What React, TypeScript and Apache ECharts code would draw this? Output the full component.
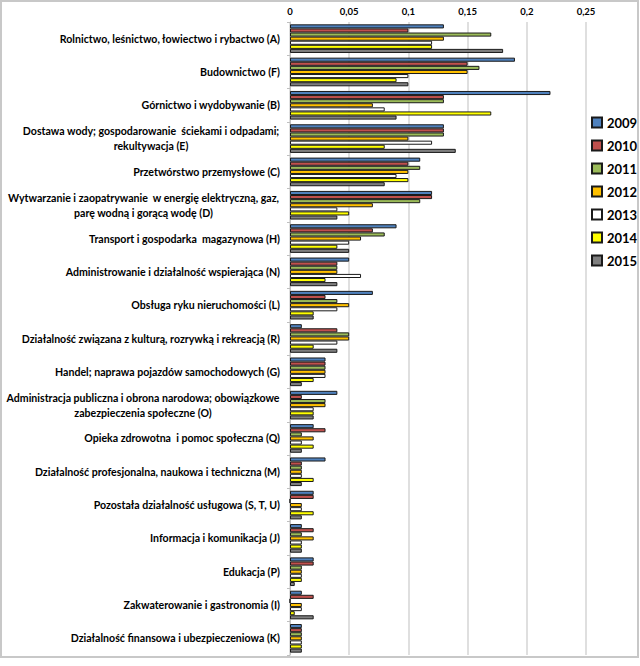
import React, { useEffect, useRef } from "react";
import * as echarts from "echarts";

const categories = [
  "Rolnictwo, leśnictwo, łowiectwo i rybactwo (A)",
  "Budownictwo (F)",
  "Górnictwo i wydobywanie (B)",
  "Dostawa wody; gospodarowanie  ściekami i odpadami;\nrekultywacja (E)",
  "Przetwórstwo przemysłowe (C)",
  "Wytwarzanie i zaopatrywanie  w energię elektryczną, gaz,\nparę wodną i gorącą wodę (D)",
  "Transport i gospodarka  magazynowa (H)",
  "Administrowanie i działalność wspierająca (N)",
  "Obsługa ryku nieruchomości (L)",
  "Działalność związana z kulturą, rozrywką i rekreacją (R)",
  "Handel; naprawa pojazdów samochodowych (G)",
  "Administracja publiczna i obrona narodowa; obowiązkowe\nzabezpieczenia społeczne (O)",
  "Opieka zdrowotna  i pomoc społeczna (Q)",
  "Działalność profesjonalna, naukowa i techniczna (M)",
  "Pozostała działalność usługowa (S, T, U)",
  "Informacja i komunikacja (J)",
  "Edukacja (P)",
  "Zakwaterowanie i gastronomia (I)",
  "Działalność finansowa i ubezpieczeniowa (K)",
];

const years = ["2009", "2010", "2011", "2012", "2013", "2014", "2015"];

const v2009 = [0.13, 0.19, 0.22, 0.13, 0.11, 0.12, 0.09, 0.05, 0.07, 0.01, 0.03, 0.04, 0.02, 0.03, 0.02, 0.01, 0.02, 0.01, 0.01];
const v2010 = [0.10, 0.15, 0.13, 0.13, 0.10, 0.12, 0.07, 0.04, 0.03, 0.04, 0.03, 0.01, 0.03, 0.01, 0.02, 0.02, 0.02, 0.02, 0.01];
const v2011 = [0.17, 0.16, 0.13, 0.13, 0.11, 0.11, 0.08, 0.04, 0.04, 0.05, 0.03, 0.03, 0.01, 0.01, 0, 0.01, 0.01, 0, 0.01];
const v2012 = [0.13, 0.15, 0.07, 0.10, 0.10, 0.07, 0.06, 0.04, 0.05, 0.05, 0.03, 0.03, 0.02, 0.01, 0.01, 0.02, 0.01, 0.01, 0.01];
const v2013 = [0.12, 0.10, 0.08, 0.12, 0.09, 0.04, 0.05, 0.06, 0.04, 0.04, 0.03, 0.02, 0.01, 0.01, 0.01, 0.01, 0.01, 0.01, 0.01];
const v2014 = [0.12, 0.09, 0.17, 0.08, 0.10, 0.05, 0.04, 0.03, 0.02, 0.02, 0.02, 0.02, 0.02, 0.02, 0.02, 0.01, 0.01, 0.004, 0.01];
const v2015 = [0.18, 0.10, 0.09, 0.14, 0.08, 0.04, 0.05, 0.04, 0.02, 0.04, 0.01, 0.02, 0.01, 0.01, 0.01, 0.01, 0.004, 0.02, 0.01];

const seriesValues = [v2009, v2010, v2011, v2012, v2013, v2014, v2015];
const colors = ["#4F81BD", "#C0504D", "#9BBB59", "#FFC000", "#FFFFFF", "#FFFF00", "#7F7F7F"];

const xTicks = { min: 0, max: 0.25, interval: 0.05 };

const LABEL_FONT = "Lato";
const LABEL_SIZE = 10.6;

export default function App() {
  const ref = useRef<HTMLDivElement>(null);

  useEffect(() => {
    document.body.style.margin = "0";
    if (!ref.current) return;
    const chart = echarts.init(ref.current, null, { renderer: "svg" });

    const canvas = document.createElement("canvas");
    const ctx = canvas.getContext("2d")!;
    ctx.font = `bold ${LABEL_SIZE}px ${LABEL_FONT}`;
    const rich: Record<string, any> = {
      s: { fontFamily: LABEL_FONT, fontWeight: "bold", fontSize: LABEL_SIZE, color: "#000", lineHeight: 15 },
    };
    const keyOf: Record<string, string> = {};
    categories.forEach((c, i) => {
      if (c.includes("\n")) {
        const w = Math.max(...c.split("\n").map((l) => ctx.measureText(l).width));
        const k = "m" + i;
        rich[k] = {
          fontFamily: LABEL_FONT,
          fontWeight: "bold",
          fontSize: LABEL_SIZE,
          color: "#000",
          width: Math.ceil(w) + 1,
          align: "center",
          lineHeight: 15,
        };
        keyOf[c] = k;
      }
    });

    chart.setOption({
      animation: false,
      backgroundColor: "#fff",
      textStyle: { fontFamily: LABEL_FONT },
      grid: { left: 290, right: 54, top: 22, bottom: 11, containLabel: false },
      legend: {
        data: years,
        orient: "vertical",
        left: 591,
        top: 115,
        padding: 0,
        itemWidth: 10,
        itemHeight: 10,
        itemGap: 8,
        icon: "rect",
        textStyle: { fontSize: 13, fontWeight: "bold", color: "#000", fontFamily: LABEL_FONT, lineHeight: 15 },
      },
      xAxis: {
        type: "value",
        position: "top",
        min: xTicks.min,
        max: xTicks.max,
        interval: xTicks.interval,
        axisLine: { show: false },
        axisTick: { show: false },
        splitLine: { show: true, lineStyle: { color: "#D4D4D4", width: 1.5 } },
        axisLabel: {
          margin: 6,
          fontSize: 9.5,
          fontWeight: "bold",
          color: "#000",
          fontFamily: LABEL_FONT,
          formatter: (v: number) => String(Number(v.toFixed(2))).replace(".", ","),
        },
      },
      yAxis: {
        type: "category",
        data: categories,
        inverse: true,
        axisLine: { show: true, lineStyle: { color: "#BFBFBF" } },
        axisTick: { show: true, length: 3, lineStyle: { color: "#BFBFBF" } },
        axisLabel: {
          margin: 10,
          interval: 0,
          formatter: (v: string) => {
            const k = keyOf[v];
            if (k) return v.split("\n").map((l) => `{${k}|${l}}`).join("\n");
            return `{s|${v}}`;
          },
          rich,
        },
      },
      series: years.map((y, i) => ({
        name: y,
        type: "bar",
        data: seriesValues[i],
        barGap: "0%",
        barCategoryGap: "14%",
        itemStyle: { color: colors[i], borderColor: "#1a1a1a", borderWidth: 1 },
      })),
      graphic: [
        {
          type: "rect",
          shape: { x: 1, y: 1, width: 637, height: 656 },
          style: { fill: "none", stroke: "#C8C8C8", lineWidth: 2 },
          silent: true,
        },
      ],
    });

    return () => chart.dispose();
  }, []);

  return <div ref={ref} style={{ width: 640, height: 666 }} />;
}
